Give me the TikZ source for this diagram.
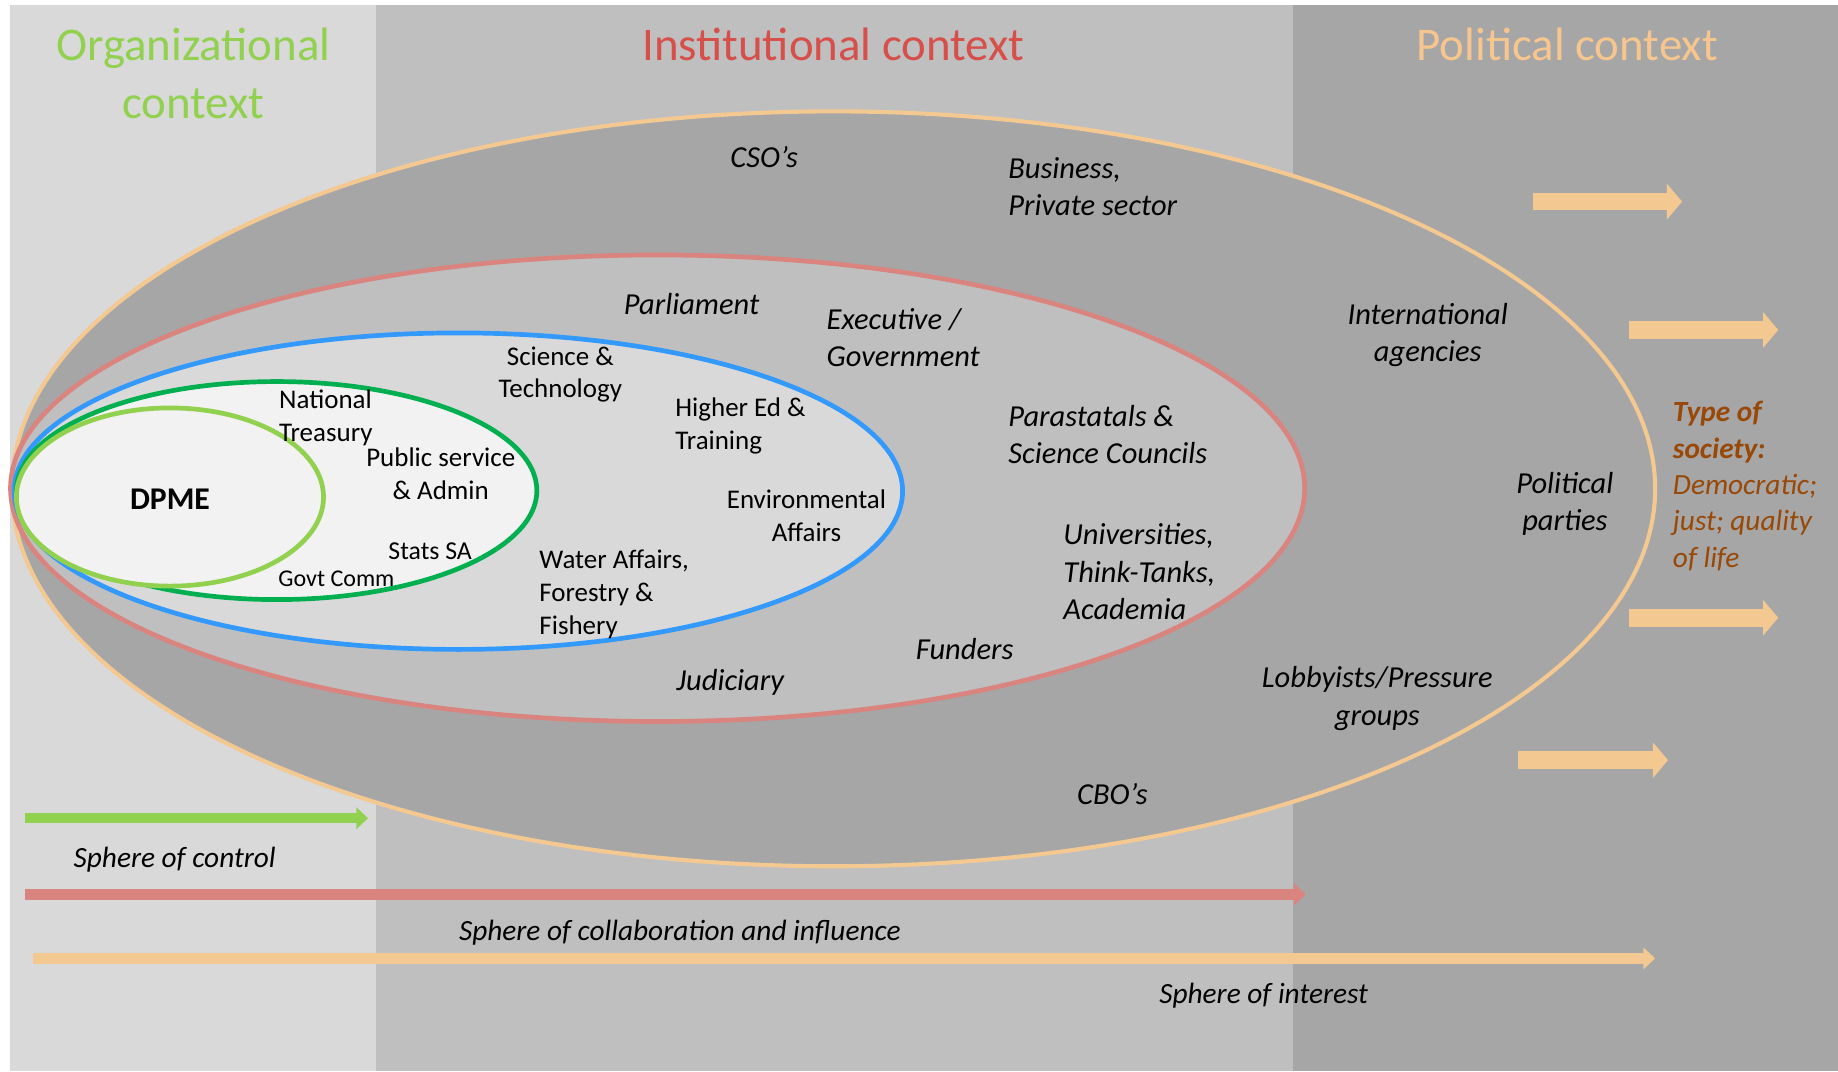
\documentclass[tikz,border=0pt]{standalone}
\usepackage{fontspec}
\setmainfont{Carlito}
\usetikzlibrary{arrows.meta}
\definecolor{bgA}{HTML}{D9D9D9}
\definecolor{bgB}{HTML}{BFBFBF}
\definecolor{bgC}{HTML}{A6A6A6}
\definecolor{inner}{HTML}{F2F2F2}
\definecolor{orng}{HTML}{F4C891}
\definecolor{redl}{HTML}{DA8480}
\definecolor{redt}{HTML}{D64F4A}
\definecolor{bluel}{HTML}{3399FF}
\definecolor{dgreen}{HTML}{00B050}
\definecolor{lgreen}{HTML}{92D050}
\definecolor{brown}{HTML}{984807}
\definecolor{polt}{HTML}{F6C68E}
\tikzset{
  title/.style={font=\fontsize{40}{49}\selectfont, align=center, inner sep=0},
  lab/.style={font=\fontsize{26}{32}\selectfont\itshape, align=left, inner sep=0, yshift=-2pt},
  labc/.style={lab, align=center},
  inlab/.style={font=\fontsize{23}{28}\selectfont, align=left, inner sep=0, yshift=-1.5pt},
  inlabc/.style={inlab, align=center},
  sphere/.style={font=\fontsize{25}{30}\selectfont\itshape, inner sep=0, yshift=-2.5pt},
  ring/.style={line width=4pt},
  barrow/.style={line width=9pt, -{Triangle[length=10pt,width=18pt]}},
  blockarrow/.style={orng, line width=15pt, -{Triangle[length=13pt,width=30pt]}}
}
\begin{document}
\begin{tikzpicture}[x=1pt,y=-1pt]
\useasboundingbox (0,0) rectangle (1568,914);
\fill[white] (0,0) rectangle (1568,914);
\fill[bgA] (8.5,4.4) rectangle (321,914);
\fill[bgB] (321,4.4) rectangle (1103,914);
\fill[bgC] (1103,4.4) rectangle (1568,914);

% titles
\node[title, text=lgreen] (torg) at (165,62.5) {Organizational\\context};
\node[title, text=redt] (tinst) at (711,38) {Institutional context};
\node[title, text=polt] (tpol) at (1337,38) {Political context};

% nested ellipses
\draw[ring, orng, fill=bgC, line width=3.5pt] (711,417) ellipse [x radius=701pt, y radius=322pt];
\draw[ring, redl, fill=bgB] (561,416.5) ellipse [x radius=552pt, y radius=199pt];
\draw[ring, bluel, fill=bgA] (391,419) ellipse [x radius=379pt, y radius=135pt];
\draw[ring, dgreen, fill=inner] (236,418.5) ellipse [x radius=222pt, y radius=93pt];
\draw[ring, lgreen, fill=inner] (145,424) ellipse [x radius=131pt, y radius=76pt];

% outer ring labels
\node[lab] (cso) at (652,132) {CSO’s};
\node[lab, anchor=west] (bus) at (860,157) {Business,\\Private sector};
\node[labc] (intl) at (1218,284) {International\\agencies};
\node[labc] (pp) at (1335,428) {Political\\parties};
\node[labc] (lob) at (1175,594) {Lobbyists/Pressure\\groups};
\node[lab] (cbo) at (949,675) {CBO’s};

% institutional ring labels
\node[lab] (parl) at (590,257) {Parliament};
\node[lab, anchor=west] (exe) at (705,286) {Executive /\\Government};
\node[lab, anchor=west] (para) at (860,368.5) {Parastatals \&\\Science Councils};
\node[lab, anchor=west] (univ) at (907,486) {Universities,\\Think-Tanks,\\Academia};
\node[lab] (fund) at (823,552) {Funders};
\node[lab] (jud) at (623,580) {Judiciary};

% blue ring labels
\node[inlabc] (sci) at (478,318) {Science \&\\Technology};
\node[inlab, anchor=west] (hed) at (576,362) {Higher Ed \&\\Training};
\node[inlabc] (env) at (688,438.5) {Environmental\\Affairs};
\node[inlab, anchor=west] (wat) at (460,505.5) {Water Affairs,\\Forestry \&\\Fishery};

% green ring labels
\node[inlab, anchor=west] (nt) at (238,355) {National\\Treasury};
\node[inlabc] (psa) at (376,402.5) {Public service\\\& Admin};
\node[inlab, font=\fontsize{22}{28}\selectfont] (ssa) at (367,469) {Stats SA};
\node[inlab, font=\fontsize{20.5}{26}\selectfont] (gc) at (287,492) {Govt Comm};
\node[font=\fontsize{27}{32}\selectfont\bfseries, inner sep=0, yshift=-1pt] (dpme) at (145,425) {DPME};

% type of society
\node[font=\fontsize{25}{31}\selectfont\itshape, text=brown, align=left, inner sep=0, anchor=west, yshift=-2pt] (tos) at (1427,412.5)
  {\textbf{Type of}\\\textbf{society:}\\Democratic;\\just; quality\\of life};

% block arrows on the right
\coordinate (a1s) at (1308,172); \coordinate (a1e) at (1435,172);
\coordinate (a2s) at (1390,281.5); \coordinate (a2e) at (1517,281.5);
\coordinate (a3s) at (1390,527); \coordinate (a3e) at (1517,527);
\coordinate (a4s) at (1295,648.5); \coordinate (a4e) at (1423,648.5);
\draw[blockarrow] (a1s) -- (a1e);
\draw[blockarrow] (a2s) -- (a2e);
\draw[blockarrow] (a3s) -- (a3e);
\draw[blockarrow] (a4s) -- (a4e);

% sphere arrows
\coordinate (gs) at (21.5,698); \coordinate (ge) at (314,698);
\coordinate (rs) at (21.5,763); \coordinate (re) at (1114,763);
\coordinate (os) at (28,817.6); \coordinate (oe) at (1412,817.6);
\draw[barrow, lgreen] (gs) -- (ge);
\draw[barrow, redl] (rs) -- (re);
\draw[barrow, orng] (os) -- (oe);
\node[sphere] (soc) at (149,731) {Sphere of control};
\node[sphere] (scol) at (580,793) {Sphere of collaboration and influence};
\node[sphere] (sint) at (1078,847) {Sphere of interest};
\end{tikzpicture}
\end{document}
